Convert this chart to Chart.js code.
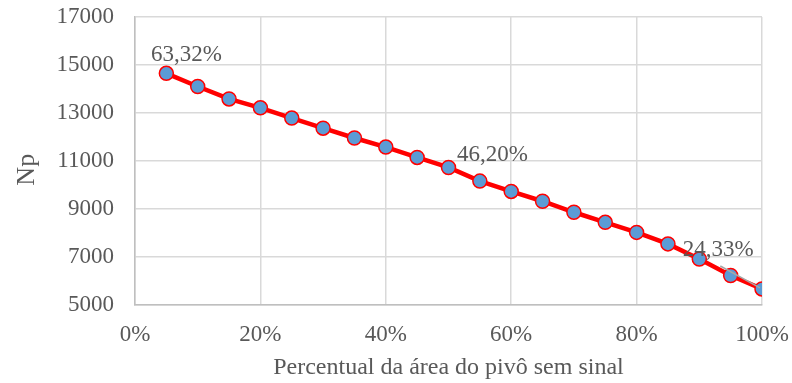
<!DOCTYPE html>
<html>
<head>
<meta charset="utf-8">
<script src="https://cdn.jsdelivr.net/npm/chart.js@4.4.1/dist/chart.umd.min.js"></script>
<style>
  html, body { margin: 0; padding: 0; background: #ffffff; }
  #wrap { width: 792px; height: 383px; }
</style>
</head>
<body>
<div id="wrap"><canvas id="npChart" width="792" height="383"></canvas></div>
<script>
// percentual da área sem sinal (fração) e Np correspondente
const percentualSemSinal = [0.05, 0.10, 0.15, 0.20, 0.25, 0.30, 0.35, 0.40, 0.45, 0.50,
                            0.55, 0.60, 0.65, 0.70, 0.75, 0.80, 0.85, 0.90, 0.95, 1.00];
const np = [14650, 14100, 13580, 13210, 12780, 12360, 11950, 11570, 11140, 10720,
            10150, 9720, 9310, 8850, 8430, 8010, 7530, 6900, 6210, 5650];

const yTicks = [5000, 7000, 9000, 11000, 13000, 15000, 17000];
const xTicks = [0, 0.2, 0.4, 0.6, 0.8, 1.0];

// rótulos de texto presos a alguns pontos
const rotuloIndices = [0, 9, 17];
const rotuloTextos = ['63,32%', '46,20%', '24,33%'];

const textColor = '#595959';
const serif = '"Liberation Serif", "Times New Roman", serif';

const rotulosPlugin = {
  id: 'rotulos',
  afterDatasetsDraw(chart) {
    const ctx = chart.ctx;
    const meta = chart.getDatasetMeta(0);
    const area = chart.chartArea;
    const offsets = [[20, -18], [44, -13], [19, -9]];
    ctx.save();
    ctx.font = '23px ' + serif;
    ctx.fillStyle = textColor;
    ctx.textAlign = 'center';
    ctx.textBaseline = 'middle';
    rotuloIndices.forEach((idx, k) => {
      const p = meta.data[idx];
      const x = p.x + offsets[k][0];
      const y = p.y + offsets[k][1];
      if (k === 2) {
        // linha guia até o último ponto
        const last = meta.data[meta.data.length - 1];
        ctx.strokeStyle = '#a6a6a6';
        ctx.lineWidth = 1.5;
        ctx.beginPath();
        ctx.moveTo(x + 2, y + 16);
        ctx.lineTo(last.x - 2, last.y - 1);
        ctx.stroke();
      }
      ctx.fillText(rotuloTextos[k], x, y);
    });

    // título do eixo y
    ctx.font = '26px ' + serif;
    ctx.translate(27, (area.top + area.bottom) / 2 + 9);
    ctx.rotate(-Math.PI / 2);
    ctx.fillText('Np', 0, 0);
    ctx.restore();
  }
};

new Chart(document.getElementById('npChart').getContext('2d'), {
  type: 'line',
  data: {
    datasets: [{
      data: percentualSemSinal.map((x, i) => ({ x: x, y: np[i] })),
      borderColor: '#ff0000',
      borderWidth: 4.5,
      pointRadius: 7,
      pointHoverRadius: 7,
      pointBackgroundColor: '#5b9bd5',
      pointBorderColor: '#ff0000',
      pointBorderWidth: 1.5,
      tension: 0,
      fill: false
    }]
  },
  options: {
    responsive: false,
    animation: false,
    events: [],
    layout: { padding: { top: 17, right: 30, left: 0, bottom: 0 } },
    plugins: { legend: { display: false }, tooltip: { enabled: false } },
    scales: {
      x: {
        type: 'linear',
        min: 0,
        max: 1,
        afterBuildTicks: (axis) => { axis.ticks = xTicks.map(v => ({ value: v })); },
        afterFit: (axis) => {
          axis.height = 78.5;
          axis.paddingLeft = 0;
          axis.paddingRight = 0;
        },
        ticks: {
          callback: (v) => Math.round(v * 100) + '%',
          color: textColor,
          font: { family: serif, size: 23 },
          padding: 17,
          maxRotation: 0
        },
        grid: { color: '#d9d9d9', lineWidth: 1.5, drawTicks: false },
        border: { color: '#bfbfbf', width: 1.5 },
        title: {
          display: true,
          text: 'Percentual da área do pivô sem sinal',
          color: textColor,
          font: { family: serif, size: 24 },
          padding: { top: 0, bottom: 1 }
        }
      },
      y: {
        min: 5000,
        max: 17000,
        afterBuildTicks: (axis) => { axis.ticks = yTicks.map(v => ({ value: v })); },
        afterFit: (axis) => {
          axis.width = 135;
          axis.paddingTop = 0;
          axis.paddingBottom = 0;
        },
        ticks: {
          callback: (v) => String(v),
          color: textColor,
          font: { family: serif, size: 23 },
          padding: 21
        },
        grid: { color: '#d9d9d9', lineWidth: 1.5, drawTicks: false },
        border: { color: '#bfbfbf', width: 1.5 }
      }
    }
  },
  plugins: [rotulosPlugin]
});
</script>
</body>
</html>
